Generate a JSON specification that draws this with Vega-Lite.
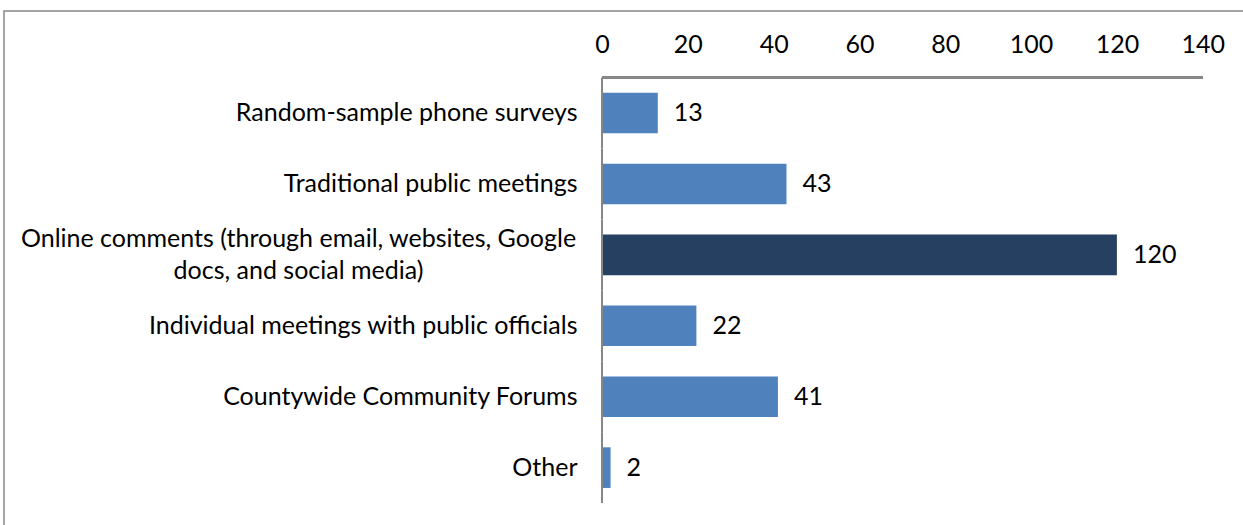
{
  "$schema": "https://vega.github.io/schema/vega-lite/v6.json",
  "width": 1242,
  "height": 516,
  "autosize": {"type": "none"},
  "padding": {"left": 4, "top": 11, "right": -3, "bottom": -2},
  "background": "white",
  "config": {
    "view": {"stroke": "#888888", "strokeWidth": 1.5},
    "font": "Lato",
    "text": {"font": "Lato"}
  },
  "data": {
    "values": [
      {"category": "Random-sample phone surveys", "value": 13},
      {"category": "Traditional public meetings", "value": 43},
      {"category": "Online comments (through email, websites, Google docs, and social media)", "value": 120},
      {"category": "Individual meetings with public officials", "value": 22},
      {"category": "Countywide Community Forums", "value": 41},
      {"category": "Other", "value": 2}
    ]
  },
  "encoding": {
    "y": {
      "field": "category",
      "type": "nominal",
      "sort": null,
      "scale": {
        "domain": [
          "Random-sample phone surveys",
          "Traditional public meetings",
          "Online comments (through email, websites, Google docs, and social media)",
          "Individual meetings with public officials",
          "Countywide Community Forums",
          "Other"
        ],
        "paddingInner": 0.427,
        "paddingOuter": 0.8514,
        "align": 0.6766
      },
      "axis": {
        "orient": "left",
        "offset": -598,
        "domain": false,
        "ticks": false,
        "tickSize": 0,
        "grid": false,
        "title": null,
        "labelFont": "Lato",
        "labelFontSize": 25,
        "labelColor": "#000000",
        "labelLimit": 2000,
        "labelLineHeight": 32,
        "labelBaseline": "middle",
        "labelExpr": "datum.value === 'Online comments (through email, websites, Google docs, and social media)' ? ['Online comments (through email, websites, Google', 'docs, and social media)'] : datum.value",
        "labelAlign": {"condition": {"test": "datum.value === 'Online comments (through email, websites, Google docs, and social media)'", "value": "center"}, "value": "right"},
        "labelPadding": {"condition": {"test": "datum.value === 'Online comments (through email, websites, Google docs, and social media)'", "value": 304}, "value": 25},
        "labelOffset": {"condition": {"test": "datum.value === 'Online comments (through email, websites, Google docs, and social media)'", "value": -16}, "value": 0}
      }
    }
  },
  "layer": [
    {
      "mark": {"type": "bar"},
      "encoding": {
        "x": {
          "field": "value",
          "type": "quantitative",
          "scale": {"domain": [-139.37, 150.09], "nice": false, "zero": false},
          "axis": {
            "orient": "top",
            "offset": -67,
            "values": [0, 20, 40, 60, 80, 100, 120, 140],
            "domain": false,
            "ticks": false,
            "tickSize": 0,
            "grid": false,
            "title": null,
            "labelFont": "Lato",
            "labelFontSize": 25,
            "labelColor": "#000000",
            "labelPadding": 26,
            "labelBaseline": "alphabetic",
            "labelFlush": false,
            "labelOverlap": false
          }
        },
        "color": {
          "condition": {"test": "datum.category === 'Online comments (through email, websites, Google docs, and social media)'", "value": "#254061"},
          "value": "#4F81BD"
        }
      }
    },
    {
      "mark": {"type": "text", "align": "left", "baseline": "middle", "dx": 16, "fontSize": 25, "font": "Lato", "color": "#000000"},
      "encoding": {
        "x": {"field": "value", "type": "quantitative"},
        "text": {"field": "value", "type": "quantitative"}
      }
    },
    {
      "mark": {"type": "tick", "orient": "vertical", "color": "#868686", "thickness": 2, "size": 70.92, "opacity": 1},
      "encoding": {
        "x": {"datum": 0, "type": "quantitative"}
      }
    },
    {
      "mark": {"type": "rule", "color": "#868686", "strokeWidth": 2},
      "encoding": {
        "x": {"datum": 0, "type": "quantitative"},
        "x2": {"datum": 140},
        "y": {"datum": "Random-sample phone surveys", "type": "nominal", "bandPosition": -0.373}
      }
    }
  ]
}
